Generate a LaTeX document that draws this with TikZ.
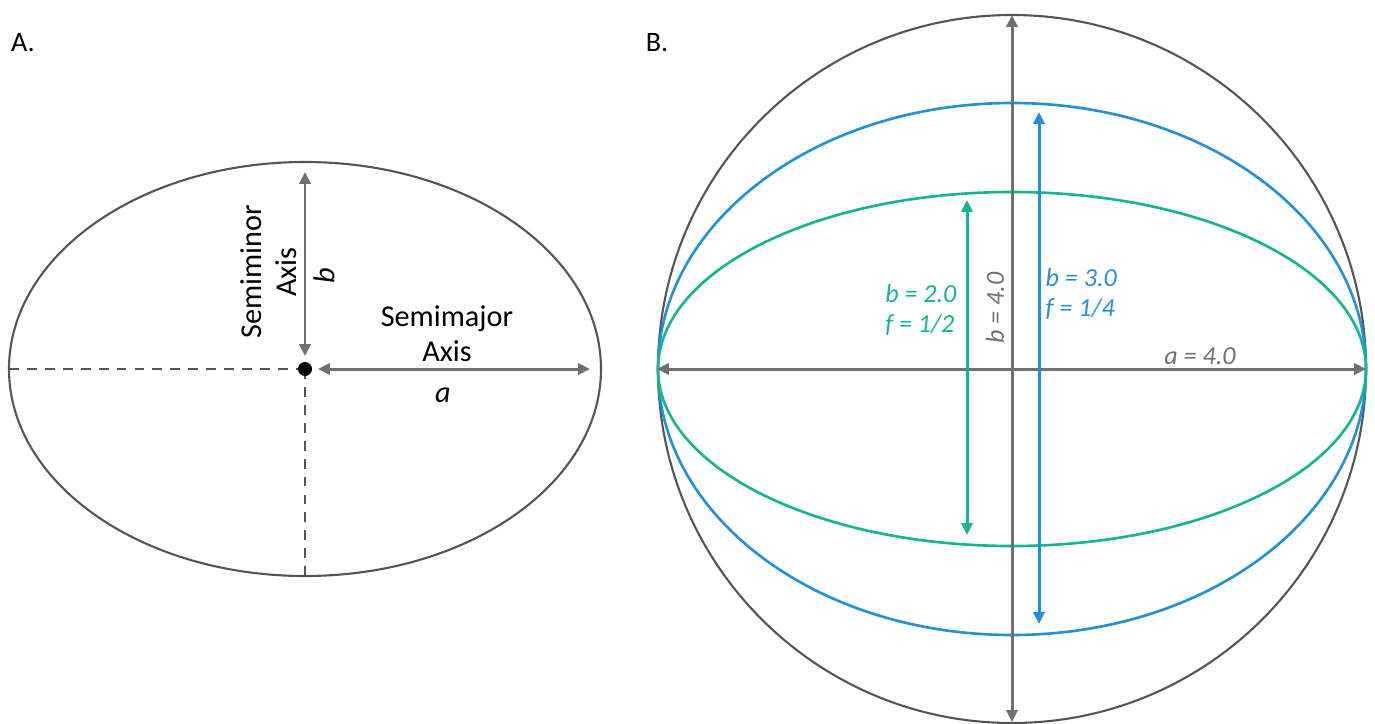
\documentclass[tikz,border=0pt]{standalone}
\usepackage{fontspec}
\setmainfont{Carlito}
\usetikzlibrary{arrows.meta}
\definecolor{rimgray}{RGB}{85,85,85}
\definecolor{axgray}{RGB}{112,112,112}
\definecolor{flatgreen}{RGB}{22,180,145}
\definecolor{flatblue}{RGB}{36,144,214}
\tikzset{
  rim/.style={line width=0.6pt, rimgray},
  axarrow/.style={line width=0.85pt, {Triangle[length=3.4pt,width=3.2pt]}-{Triangle[length=3.4pt,width=3.2pt]}},
  lbl/.style={inner sep=0pt, font=\fontsize{8.6pt}{10pt}\selectfont},
  val/.style={inner sep=0pt, font=\fontsize{7.4pt}{8.3pt}\selectfont\itshape},
}

\begin{document}
\begin{tikzpicture}[x=0.01cm, y=-0.01cm]
\useasboundingbox (0,0) rectangle (1375,724);
% A.
\coordinate (Actr) at (305,369);
\coordinate (Aleft) at (9,369);
\coordinate (Abot) at (305,575);
\coordinate (Amaj) at (590,369);
\coordinate (Amajs) at (318,369);
\coordinate (Amin) at (305,172);
\coordinate (Amins) at (305,356);
\draw [rim] (Actr) ellipse [x radius=296, y radius=207];
\draw [rim, dashed, dash pattern=on 2.8pt off 2.3pt] (Aleft)--(Actr);
\draw [rim, dashed, dash pattern=on 2.8pt off 2.3pt] (Actr)--(Abot);
\draw [axgray, axarrow] (Amajs)--(Amaj);
\draw [axgray, axarrow] (Amin)--(Amins);
\fill (Actr) circle [radius=2pt];
\node [lbl, font=\fontsize{8pt}{9pt}\selectfont] (titleA) at (23,43) {A.};
\node [lbl, rotate=90, align=center] (minorlbl) at (269,272) {Semiminor\\Axis};
\node [lbl, rotate=90] (blbl) at (324,276) {\textit{b}};
\node [lbl, align=center] (majorlbl) at (447,334) {Semimajor\\Axis};
\node [lbl] (albl) at (443,395) {\textit{a}};
% B.
\coordinate (Bctr) at (1012,369);
\coordinate (Bleft) at (657,369);
\coordinate (Bright) at (1366,369);
\coordinate (Btop) at (1012,15);
\coordinate (Bbot) at (1012,722);
\coordinate (Gtop) at (967,200);
\coordinate (Gbot) at (967,535);
\coordinate (Ctop) at (1039,112);
\coordinate (Cbot) at (1039,624);
\draw [rim] (Bctr) circle [radius=354];
\draw [flatblue, line width=0.75pt] (Bctr) ellipse [x radius=354, y radius=266];
\draw [flatgreen, line width=0.75pt] (Bctr) ellipse [x radius=354, y radius=177];
\draw [axgray, axarrow] (Bleft)--(Bright);
\draw [axgray, axarrow] (Btop)--(Bbot);
\draw [flatgreen, axarrow] (Gtop)--(Gbot);
\draw [flatblue, axarrow] (Ctop)--(Cbot);
\node [lbl, font=\fontsize{8pt}{9pt}\selectfont] (titleB) at (657,43) {B.};
\node [val, flatgreen, align=left, anchor=east] (greenlbl) at (957,310) {b = 2.0\\f = 1/2};
\node [val, flatblue, align=left, anchor=west] (bluelbl) at (1045,294) {b = 3.0\\f = 1/4};
\node [val, axgray, rotate=90] (graylbl) at (995,308) {b = 4.0};
\node [val, axgray] (alenlbl) at (1200,356) {a = 4.0};
\end{tikzpicture}
\end{document}
